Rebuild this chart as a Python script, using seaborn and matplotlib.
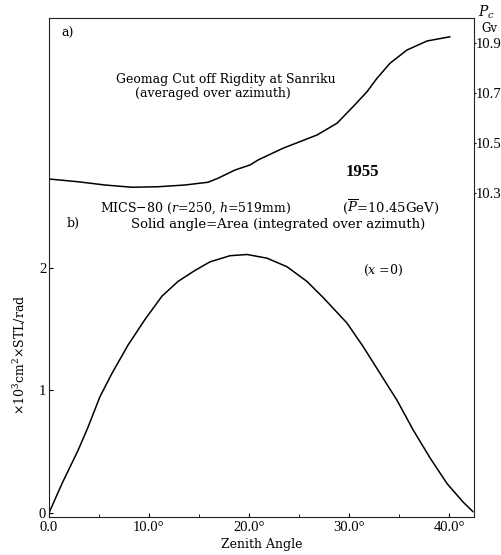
import matplotlib
matplotlib.use('Agg')
import matplotlib.pyplot as plt
import pandas as pd
import seaborn as sns

# a) geomagnetic cut-off rigidity vs zenith angle
rig_angle = [0.0, 2.9, 5.6, 8.3, 10.9, 13.6, 15.9, 16.9, 18.6, 20.1, 20.9, 23.4,
             26.8, 28.8, 30.4, 31.8, 32.8, 34.1, 35.8, 37.8, 40.1]
rig_value = [10.356, 10.345, 10.332, 10.323, 10.325, 10.332, 10.343, 10.359, 10.392,
             10.412, 10.432, 10.479, 10.532, 10.579, 10.645, 10.705, 10.759, 10.819,
             10.872, 10.908, 10.925]

# b) solid angle x area vs zenith angle
acc_angle = [0.0, 1.3, 2.9, 3.9, 5.1, 6.3, 7.9, 9.6, 11.3, 12.9, 14.6, 16.1, 18.1,
             19.8, 21.8, 23.8, 25.8, 27.4, 29.8, 31.4, 33.1, 34.8, 36.4, 38.1, 39.8,
             41.4, 42.4]
acc_value = [0.0, 0.24, 0.51, 0.70, 0.95, 1.14, 1.37, 1.58, 1.77, 1.89, 1.98, 2.05,
             2.10, 2.11, 2.08, 2.01, 1.89, 1.76, 1.55, 1.36, 1.14, 0.92, 0.68, 0.45,
             0.24, 0.09, 0.01]

rig_ticks = [10.3, 10.5, 10.7, 10.9]
acc_ticks = [0, 1, 2]
zen_ticks = [0, 10, 20, 30, 40]
zen_labels = ['0.0', '10.0°', '20.0°', '30.0°', '40.0°']

rig = pd.DataFrame({'angle': rig_angle, 'value': rig_value})
acc = pd.DataFrame({'angle': acc_angle, 'value': acc_value})

sns.set_theme(style='ticks')
plt.rcParams['font.family'] = ['DejaVu Serif']
plt.rcParams['mathtext.fontset'] = 'dejavuserif'
plt.rcParams['axes.edgecolor'] = '#222222'
plt.rcParams['axes.linewidth'] = 0.8
for key in ['text.color', 'axes.labelcolor', 'xtick.color', 'ytick.color']:
    plt.rcParams[key] = 'black'

TICK_FONT = 'Liberation Serif'
TXT = 9

fig = plt.figure(figsize=(5.01, 5.55), dpi=100)
left, width = 49 / 501, 425 / 501
ax_a = fig.add_axes([left, 1 - 193 / 555, width, 175 / 555])
ax_b = fig.add_axes([left, 1 - 517 / 555, width, 324 / 555])

# top panel
sns.lineplot(data=rig, x='angle', y='value', ax=ax_a, color='black', lw=1.1)
ax_a.set_xlim(0, 42.5)
ax_a.set_ylim(10.3, 11.0)
ax_a.set_xticks([])
ax_a.set_xlabel('')
ax_a.set_ylabel('')
ax_a.yaxis.tick_right()
ax_a.set_yticks(rig_ticks)
ax_a.set_yticklabels([f'{t:.1f}' for t in rig_ticks])
ax_a.tick_params(axis='y', length=1.5, width=0.8, pad=0)
for tick in ax_a.yaxis.get_major_ticks():
    tick.label2.set_fontfamily(TICK_FONT)
    tick.label2.set_fontsize(10.5)
ax_a.spines['bottom'].set_visible(False)

ax_a.text(0.03, 0.91, 'a)', transform=ax_a.transAxes, fontsize=TXT, va='center')
ax_a.text(0.415, 0.65, 'Geomag Cut off Rigdity at Sanriku', transform=ax_a.transAxes,
          fontsize=TXT, ha='center', va='center')
ax_a.text(0.385, 0.57, '(averaged over azimuth)', transform=ax_a.transAxes,
          fontsize=TXT, ha='center', va='center')
ax_a.text(0.737, 0.12, '1955', transform=ax_a.transAxes, fontsize=12,
          ha='center', va='center', family=TICK_FONT, fontweight='bold')
fig.text(478 / 501, 1 - 12 / 555, r'$P_c$', fontsize=10, ha='left', va='center')
fig.text(481 / 501, 1 - 28 / 555, 'Gv', fontsize=8.5, ha='left', va='center')

# bottom panel
sns.lineplot(data=acc, x='angle', y='value', ax=ax_b, color='black', lw=1.1)
ax_b.set_xlim(0, 42.5)
ax_b.set_ylim(-0.033, 2.612)
ax_b.set_xticks(zen_ticks)
ax_b.set_xticklabels(zen_labels)
ax_b.set_xticks([5, 15, 25, 35], minor=True)
ax_b.set_yticks(acc_ticks)
ax_b.set_yticklabels([str(t) for t in acc_ticks])
ax_b.tick_params(axis='both', direction='in', length=3, width=0.8, pad=2,
                 labelsize=10.5, labelfontfamily=TICK_FONT)
ax_b.tick_params(axis='x', which='minor', direction='in', length=2, width=0.6)
ax_b.tick_params(axis='x', pad=3)
ax_b.spines['top'].set_visible(False)
ax_b.set_xlabel('Zenith Angle', fontsize=TXT, labelpad=3)
ax_b.set_ylabel(r'$\times$10$^3$cm$^2$$\times$STL/rad', fontsize=TXT, labelpad=8)

ax_b.text(0.042, 0.905, 'b)', transform=ax_b.transAxes, fontsize=TXT, va='center')
ax_b.text(0.12, 0.954, r'MICS$-$80 ($r$=250, $h$=519mm)', transform=ax_b.transAxes,
          fontsize=9, ha='left', va='center')
ax_b.text(0.69, 0.956, r'($\overline{P}$=10.45GeV)', transform=ax_b.transAxes,
          fontsize=9.5, ha='left', va='center')
ax_b.text(0.538, 0.904, 'Solid angle=Area (integrated over azimuth)',
          transform=ax_b.transAxes, fontsize=9.5, ha='center', va='center')
ax_b.text(0.786, 0.762, r'($x$ =0)', transform=ax_b.transAxes, fontsize=TXT,
          ha='center', va='center')

fig.savefig('out.png', dpi=100)
plt.close(fig)
